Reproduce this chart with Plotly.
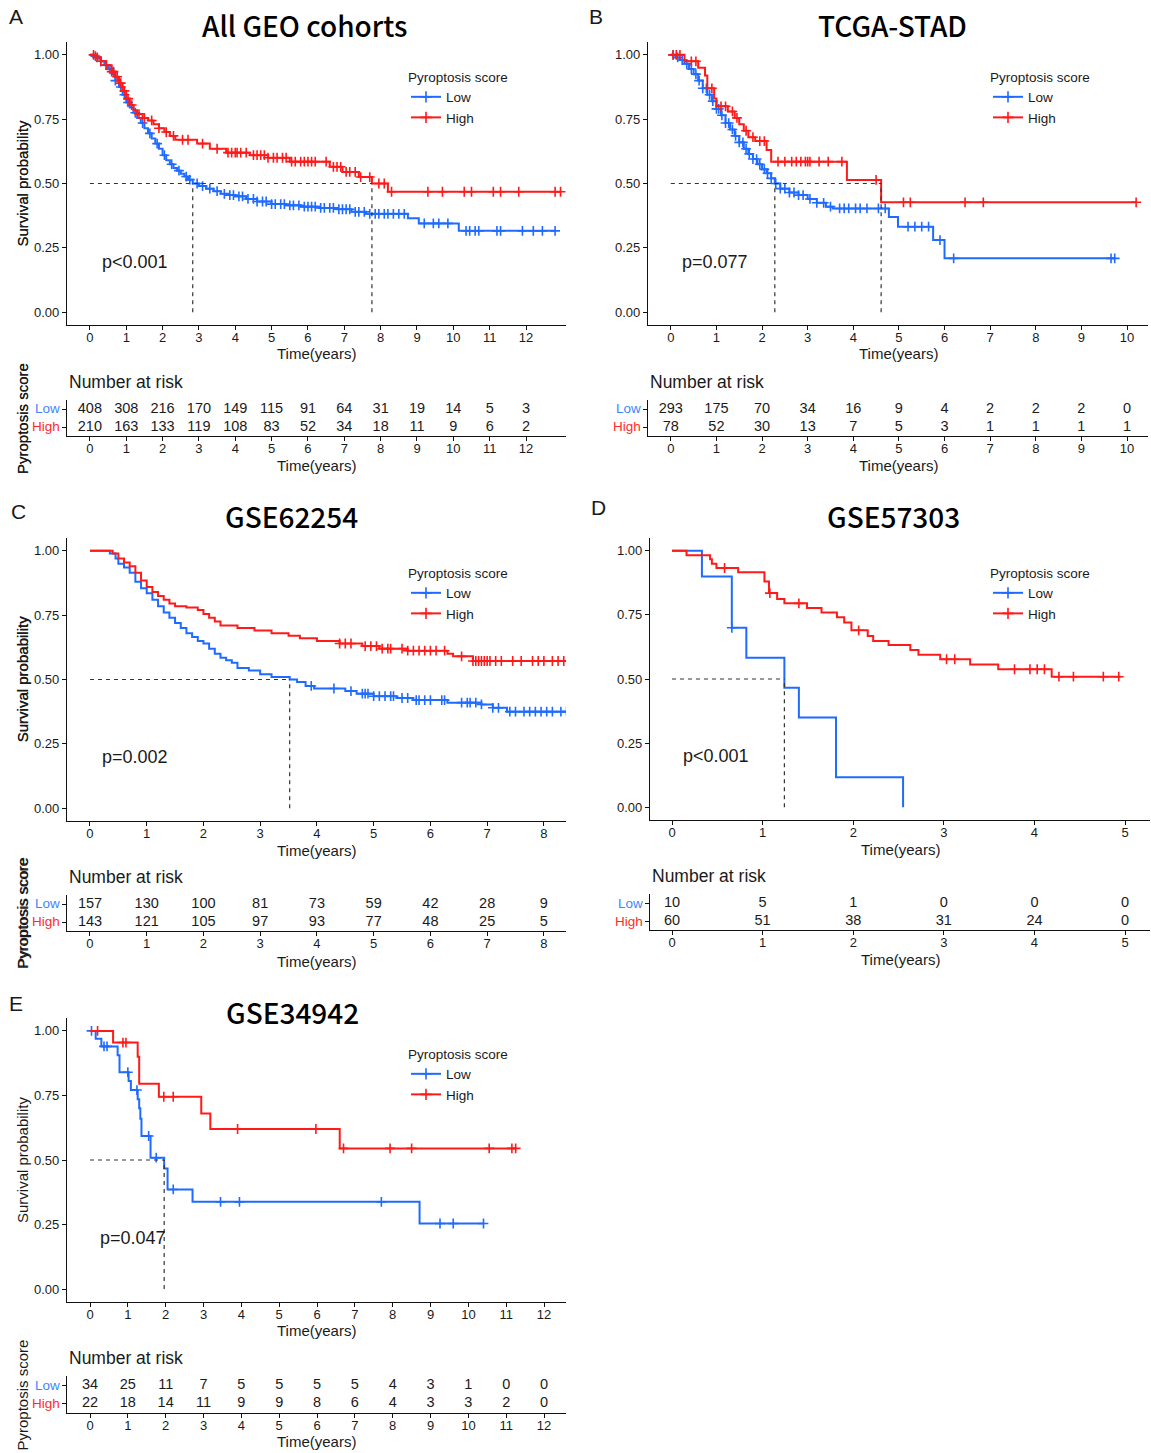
import numpy as np
import plotly.graph_objects as go

W, H = 1151, 1453
BLUE = "#1F6BFF"
RED = "#FF1A1A"
LBLUE = "#3D86FF"
LRED = "#FF2A2A"

# ---------------- DATA ----------------
# Panel A: All GEO cohorts
A_low_t = [0.1, 0.2, 0.3, 0.4, 0.5, 0.6, 0.7, 0.8, 0.9, 1.0, 1.1, 1.2, 1.3, 1.4, 1.5, 1.6, 1.7, 1.8, 1.9, 2.0,
           2.1, 2.2, 2.3, 2.4, 2.5, 2.6, 2.7, 2.83, 3.0, 3.2, 3.4, 3.6, 3.8, 4.0, 4.3, 4.6, 5.0, 5.4, 5.8, 6.3,
           6.8, 7.2, 7.6, 8.75, 9.05, 10.15]
A_low_s = [0.995, 0.985, 0.975, 0.96, 0.945, 0.925, 0.90, 0.875, 0.845, 0.815, 0.795, 0.775, 0.755, 0.735, 0.715,
           0.695, 0.675, 0.655, 0.635, 0.61, 0.59, 0.575, 0.56, 0.55, 0.538, 0.527, 0.515, 0.50, 0.49, 0.48, 0.47,
           0.46, 0.455, 0.45, 0.44, 0.43, 0.42, 0.415, 0.41, 0.405, 0.40, 0.39, 0.382, 0.365, 0.345, 0.316]
A_low_c = [0.15, 0.3, 0.45, 0.55, 0.7, 0.85, 0.95, 1.05, 1.25, 1.45, 1.65, 1.85, 2.05, 2.25, 2.45, 2.65, 2.75, 2.95,
           3.1, 3.3, 3.5, 3.7, 3.85, 3.95, 4.1, 4.2, 4.35, 4.5, 4.6, 4.75, 4.85, 5.0, 5.1, 5.25, 5.35, 5.5, 5.6,
           5.75, 5.9, 6.0, 6.1, 6.2, 6.35, 6.45, 6.6, 6.7, 6.85, 6.95, 7.05, 7.15, 7.3, 7.4, 7.55, 7.7, 7.85, 7.95,
           8.1, 8.2, 8.35, 8.5, 8.65, 9.2, 9.45, 9.6, 9.85, 10.35, 10.45, 10.6, 10.7, 11.2, 11.3, 11.9, 12.2,
           12.45, 12.8]
A_low_end = 12.8
A_high_t = [0.15, 0.3, 0.45, 0.6, 0.7, 0.8, 0.9, 1.0, 1.1, 1.2, 1.3, 1.45, 1.6, 1.75, 1.9, 2.05, 2.2, 2.35, 2.95,
            3.3, 3.75, 4.4, 4.9, 5.5, 6.6, 6.95, 7.4, 7.76, 8.2]
A_high_s = [0.99, 0.975, 0.96, 0.935, 0.915, 0.89, 0.86, 0.83, 0.805, 0.785, 0.77, 0.755, 0.745, 0.73, 0.715, 0.70,
            0.685, 0.67, 0.655, 0.635, 0.62, 0.61, 0.60, 0.585, 0.565, 0.545, 0.525, 0.50, 0.468]
A_high_c = [0.1, 0.2, 0.3, 0.45, 0.6, 0.65, 0.75, 0.85, 0.95, 1.05, 1.15, 1.35, 1.5, 1.7, 1.9, 2.1, 2.3, 2.55, 2.7,
            3.1, 3.5, 3.8, 3.9, 4.0, 4.05, 4.15, 4.3, 4.5, 4.6, 4.7, 4.8, 4.9, 5.05, 5.15, 5.3, 5.4, 5.55, 5.65, 5.8,
            5.9, 6.0, 6.1, 6.2, 6.5, 6.7, 6.8, 6.9, 7.05, 7.15, 7.3, 7.45, 7.7, 7.95, 8.1, 8.3, 9.3, 9.7, 10.3,
            10.5, 11.1, 11.3, 11.8, 12.8, 12.95]
A_high_end = 12.95
A_risk_times = [0, 1, 2, 3, 4, 5, 6, 7, 8, 9, 10, 11, 12]
A_risk_low = [408, 308, 216, 170, 149, 115, 91, 64, 31, 19, 14, 5, 3]
A_risk_high = [210, 163, 133, 119, 108, 83, 52, 34, 18, 11, 9, 6, 2]

# Panel B: TCGA-STAD
B_low_t = [0.1, 0.2, 0.3, 0.4, 0.5, 0.6, 0.7, 0.8, 0.9, 1.0, 1.1, 1.2, 1.3, 1.4, 1.5, 1.6, 1.7, 1.8, 1.9, 2.0,
           2.1, 2.2, 2.28, 2.4, 2.6, 2.8, 3.0, 3.2, 3.4, 3.55, 4.78, 4.98, 5.75, 6.0]
B_low_s = [0.99, 0.98, 0.965, 0.945, 0.925, 0.90, 0.87, 0.845, 0.82, 0.79, 0.765, 0.735, 0.71, 0.685, 0.66, 0.635,
           0.615, 0.595, 0.575, 0.555, 0.54, 0.52, 0.50, 0.48, 0.465, 0.455, 0.44, 0.425, 0.41, 0.403, 0.37,
           0.332, 0.28, 0.209]
B_low_c = [0.05, 0.15, 0.25, 0.35, 0.45, 0.55, 0.62, 0.7, 0.78, 0.85, 0.92, 1.0, 1.05, 1.12, 1.2, 1.27, 1.35, 1.42,
           1.5, 1.58, 1.65, 1.72, 1.8, 1.88, 1.95, 2.05, 2.12, 2.2, 2.3, 2.4, 2.5, 2.6, 2.7, 2.8, 2.9, 3.05, 3.2,
           3.35, 3.5, 3.7, 3.8, 3.9, 4.05, 4.15, 4.3, 4.55, 4.7, 5.2, 5.35, 5.5, 5.65, 5.9, 6.2, 9.65, 9.73]
B_low_end = 9.73
B_high_t = [0.3, 0.6, 0.75, 0.8, 0.95, 1.0, 1.25, 1.4, 1.5, 1.6, 1.7, 1.85, 2.1, 2.2, 3.86, 4.61]
B_high_s = [0.975, 0.95, 0.92, 0.87, 0.83, 0.80, 0.78, 0.755, 0.73, 0.705, 0.68, 0.665, 0.63, 0.585, 0.514, 0.427]
B_high_c = [0.05, 0.12, 0.2, 0.45, 0.55, 0.9, 1.1, 1.2, 1.35, 1.45, 1.65, 1.8, 1.95, 2.05, 2.35, 2.5, 2.65, 2.75,
            2.85, 2.95, 3.0, 3.05, 3.25, 3.45, 3.75, 4.5, 5.1, 5.25, 6.45, 6.85, 10.2]
B_high_end = 10.2
B_risk_times = [0, 1, 2, 3, 4, 5, 6, 7, 8, 9, 10]
B_risk_low = [293, 175, 70, 34, 16, 9, 4, 2, 2, 2, 0]
B_risk_high = [78, 52, 30, 13, 7, 5, 3, 1, 1, 1, 1]

# Panel C: GSE62254
C_low_t = [0.35, 0.45, 0.5, 0.6, 0.7, 0.8, 0.9, 1.0, 1.1, 1.2, 1.3, 1.4, 1.5, 1.6, 1.7, 1.8, 1.9, 2.0, 2.1, 2.2,
           2.3, 2.4, 2.5, 2.6, 2.8, 3.0, 3.2, 3.52, 3.65, 3.8, 3.95, 4.5, 4.7, 5.0, 5.4, 5.7, 6.3, 6.9, 7.1, 7.35]
C_low_s = [0.99, 0.97, 0.95, 0.935, 0.915, 0.88, 0.855, 0.835, 0.81, 0.785, 0.76, 0.74, 0.72, 0.70, 0.68, 0.665,
           0.65, 0.64, 0.62, 0.60, 0.585, 0.575, 0.565, 0.545, 0.535, 0.52, 0.51, 0.50, 0.49, 0.475, 0.465, 0.455,
           0.445, 0.435, 0.428, 0.42, 0.41, 0.403, 0.39, 0.375]
C_low_c = [3.9, 4.3, 4.6, 4.8, 4.85, 4.9, 5.0, 5.1, 5.2, 5.3, 5.35, 5.5, 5.6, 5.75, 5.8, 5.9, 6.0, 6.2, 6.25, 6.55,
           6.65, 6.7, 6.8, 6.9, 7.1, 7.2, 7.4, 7.5, 7.65, 7.75, 7.85, 7.95, 8.05, 8.15, 8.3, 8.4]
C_low_end = 8.4
C_high_t = [0.4, 0.5, 0.6, 0.7, 0.8, 0.9, 1.0, 1.1, 1.2, 1.3, 1.4, 1.5, 1.7, 1.9, 2.0, 2.1, 2.2, 2.3, 2.6, 2.9,
            3.2, 3.5, 3.7, 4.0, 4.4, 4.8, 5.1, 5.6, 6.3, 6.4, 6.75]
C_high_s = [0.99, 0.97, 0.955, 0.94, 0.915, 0.885, 0.86, 0.84, 0.825, 0.81, 0.795, 0.785, 0.78, 0.77, 0.755, 0.74,
            0.725, 0.71, 0.70, 0.69, 0.68, 0.67, 0.66, 0.65, 0.64, 0.63, 0.62, 0.612, 0.60, 0.59, 0.572]
C_high_c = [4.4, 4.5, 4.6, 4.85, 4.95, 5.05, 5.15, 5.25, 5.3, 5.5, 5.6, 5.7, 5.8, 5.9, 6.0, 6.1, 6.25, 6.55, 6.75,
            6.8, 6.85, 6.9, 6.95, 7.0, 7.05, 7.15, 7.25, 7.45, 7.6, 7.8, 7.9, 8.0, 8.15, 8.25, 8.35]
C_high_end = 8.4
C_risk_times = [0, 1, 2, 3, 4, 5, 6, 7, 8]
C_risk_low = [157, 130, 100, 81, 73, 59, 42, 28, 9]
C_risk_high = [143, 121, 105, 97, 93, 77, 48, 25, 5]

# Panel D: GSE57303
D_low_t = [0.33, 0.66, 0.82, 1.24, 1.4, 1.81, 2.55]
D_low_s = [0.90, 0.70, 0.583, 0.466, 0.35, 0.117, 0.0]
D_low_c = [0.66]
D_low_end = 2.55
D_high_t = [0.16, 0.42, 0.44, 0.49, 0.73, 1.02, 1.07, 1.16, 1.24, 1.49, 1.65, 1.82, 1.9, 1.98, 2.16, 2.22, 2.39,
            2.63, 2.72, 2.96, 3.29, 3.6, 4.19]
D_high_s = [0.983, 0.967, 0.95, 0.933, 0.916, 0.88, 0.835, 0.812, 0.795, 0.777, 0.759, 0.741, 0.72, 0.69, 0.668,
            0.648, 0.633, 0.613, 0.595, 0.577, 0.557, 0.538, 0.509]
D_high_c = [0.58, 1.08, 1.4, 2.06, 3.03, 3.12, 3.78, 3.95, 4.03, 4.11, 4.27, 4.43, 4.76, 4.93]
D_high_end = 4.95
D_risk_times = [0, 1, 2, 3, 4, 5]
D_risk_low = [10, 5, 1, 0, 0, 0]
D_risk_high = [60, 51, 38, 31, 24, 0]

# Panel E: GSE34942
E_low_t = [0.15, 0.3, 0.73, 0.78, 1.02, 1.08, 1.26, 1.3, 1.33, 1.36, 1.6, 1.96, 2.05, 2.71, 8.71]
E_low_s = [0.97, 0.94, 0.906, 0.84, 0.806, 0.771, 0.735, 0.70, 0.66, 0.593, 0.509, 0.467, 0.386, 0.338, 0.254]
E_low_c = [0.04, 0.37, 0.45, 1.0, 1.24, 1.55, 1.75, 2.2, 3.45, 3.95, 7.7, 9.25, 9.6, 10.4]
E_low_end = 10.4
E_high_t = [0.61, 1.26, 1.3, 1.82, 2.94, 3.18, 6.6]
E_high_s = [0.955, 0.9, 0.795, 0.745, 0.68, 0.62, 0.545]
E_high_c = [0.2, 0.87, 0.95, 1.95, 2.2, 3.9, 5.97, 6.7, 7.93, 8.5, 10.55, 11.15, 11.25]
E_high_end = 11.25
E_risk_times = [0, 1, 2, 3, 4, 5, 6, 7, 8, 9, 10, 11, 12]
E_risk_low = [34, 25, 11, 7, 5, 5, 5, 5, 4, 3, 1, 0, 0]
E_risk_high = [22, 18, 14, 11, 9, 9, 8, 6, 4, 3, 3, 2, 0]

titles = ["All GEO cohorts", "TCGA-STAD", "GSE62254", "GSE57303", "GSE34942"]
letters = ["A", "B", "C", "D", "E"]
pvalues = ["p<0.001", "p=0.077", "p=0.002", "p<0.001", "p=0.047"]

# ---------------- LAYOUT (pixels) ----------------
def fx(px):
    return px / W

def fy(py):
    return 1 - py / H

panels = [
    dict(d=dict(lt=A_low_t, ls=A_low_s, lc=A_low_c, le=A_low_end, ht=A_high_t, hs=A_high_s, hc=A_high_c, he=A_high_end,
                rt=A_risk_times, rl=A_risk_low, rh=A_risk_high),
         km=(67, 566, 42, 325), risk=(400, 436), xr=(-0.63, 13.1),
         letter=(16, 16), title=(305, 25), leg=(406, 64), pv=(100, 262), nar=382, xt=354, rxt=465),
    dict(d=dict(lt=B_low_t, ls=B_low_s, lc=B_low_c, le=B_low_end, ht=B_high_t, hs=B_high_s, hc=B_high_c, he=B_high_end,
                rt=B_risk_times, rl=B_risk_low, rh=B_risk_high),
         km=(648, 1148, 42, 325), risk=(400, 436), xr=(-0.5, 10.46),
         letter=(596, 16), title=(892, 25), leg=(988, 64), pv=(680, 262), nar=382, xt=354, rxt=465),
    dict(d=dict(lt=C_low_t, ls=C_low_s, lc=C_low_c, le=C_low_end, ht=C_high_t, hs=C_high_s, hc=C_high_c, he=C_high_end,
                rt=C_risk_times, rl=C_risk_low, rh=C_risk_high),
         km=(67, 566, 538, 821), risk=(895, 931), xr=(-0.405, 8.39),
         letter=(18, 511), title=(291, 516), leg=(406, 560), pv=(100, 757), nar=877, xt=850, rxt=961),
    dict(d=dict(lt=D_low_t, ls=D_low_s, lc=D_low_c, le=D_low_end, ht=D_high_t, hs=D_high_s, hc=D_high_c, he=D_high_end,
                rt=D_risk_times, rl=D_risk_low, rh=D_risk_high),
         km=(650, 1150, 538, 820), risk=(894, 930), xr=(-0.243, 5.275),
         letter=(598, 508), title=(893, 516), leg=(988, 560), pv=(681, 756), nar=876, xt=849, rxt=959),
    dict(d=dict(lt=E_low_t, ls=E_low_s, lc=E_low_c, le=E_low_end, ht=E_high_t, hs=E_high_s, hc=E_high_c, he=E_high_end,
                rt=E_risk_times, rl=E_risk_low, rh=E_risk_high),
         km=(67, 566, 1018, 1302), risk=(1376, 1413), xr=(-0.608, 12.58),
         letter=(16, 1003), title=(292, 1012), leg=(406, 1041), pv=(98, 1238), nar=1358, xt=1330, rxt=1441),
]

FONT = "Liberation Sans, Arial, sans-serif"
TXT = "#1a1a1a"


def step_value(ts, ss, t):
    i = int(np.searchsorted(np.asarray(ts), t, side="right")) - 1
    return 1.0 if i < 0 else ss[i]


def median_time(ts, ss):
    for t, s in zip(ts, ss):
        if s <= 0.5:
            return t
    return None


fig = go.Figure()
layout = dict(width=W, height=H, margin=dict(l=0, r=0, t=0, b=0),
              paper_bgcolor="white", plot_bgcolor="white", showlegend=True)
annotations = []
shapes = []

for i, p in enumerate(panels):
    d = p["d"]
    kn, rn = 2 * i + 1, 2 * i + 2
    kx = "x" if kn == 1 else f"x{kn}"
    ky = "y" if kn == 1 else f"y{kn}"
    rx, ry = f"x{rn}", f"y{rn}"
    kxl = "xaxis" if kn == 1 else f"xaxis{kn}"
    kyl = "yaxis" if kn == 1 else f"yaxis{kn}"
    legname = "legend" if i == 0 else f"legend{i + 1}"
    x0, x1, y0, y1 = p["km"]
    r0, r1 = p["risk"]

    axis_common = dict(showline=True, linecolor="#111", linewidth=1.3, ticks="outside", ticklen=4,
                       tickcolor="#111", tickwidth=1.1, showgrid=False, zeroline=False,
                       tickfont=dict(family=FONT, size=13, color=TXT), fixedrange=True)
    layout[kxl] = dict(domain=[fx(x0), fx(x1)], range=list(p["xr"]), anchor=ky, ticklabelstandoff=-4,
                       tickvals=d["rt"], ticktext=[str(v) for v in d["rt"]], **axis_common)
    layout[kyl] = dict(domain=[fy(y1), fy(y0)], range=[-0.05, 1.05], anchor=kx,
                       tickvals=[0, 0.25, 0.5, 0.75, 1.0], ticktext=["0.00", "0.25", "0.50", "0.75", "1.00"],
                       **axis_common)
    layout[f"xaxis{rn}"] = dict(domain=[fx(x0), fx(x1)], range=list(p["xr"]), anchor=ry, ticklabelstandoff=-4,
                                tickvals=d["rt"], ticktext=[str(v) for v in d["rt"]], **axis_common)
    layout[f"yaxis{rn}"] = dict(domain=[fy(r1), fy(r0)], range=[0.5, 2.5], anchor=rx,
                                tickvals=[1, 2], ticktext=["", ""], **axis_common)

    # curves
    for key_t, key_s, key_c, key_e, col, name in [("lt", "ls", "lc", "le", BLUE, "Low"),
                                                  ("ht", "hs", "hc", "he", RED, "High")]:
        ts, ss, cs, te = d[key_t], d[key_s], d[key_c], d[key_e]
        xs = [0] + list(ts)
        ys = [1.0] + list(ss)
        if te > xs[-1]:
            xs.append(te)
            ys.append(ys[-1])
        fig.add_trace(go.Scatter(x=xs, y=ys, mode="lines", line=dict(color=col, width=2, shape="hv"),
                                 xaxis=kx, yaxis=ky, showlegend=False, hoverinfo="skip"))
        cy = [step_value(ts, ss, c) for c in cs]
        fig.add_trace(go.Scatter(x=cs, y=cy, mode="markers",
                                 marker=dict(symbol="cross-thin", size=7, color=col, line=dict(color=col, width=1.6)),
                                 xaxis=kx, yaxis=ky, showlegend=False, hoverinfo="skip"))
        fig.add_trace(go.Scatter(x=[None], y=[None], mode="lines+markers", name=name,
                                 line=dict(color=col, width=2),
                                 marker=dict(symbol="cross-thin", size=8, color=col, line=dict(color=col, width=1.6)),
                                 xaxis=kx, yaxis=ky, showlegend=True, legend=legname))

    # medians
    meds = [m for m in (median_time(d["lt"], d["ls"]), median_time(d["ht"], d["hs"])) if m is not None]
    dash = dict(color="#333", width=1.2, dash="4px,4px")
    if meds:
        shapes.append(dict(type="line", xref=kx, yref=ky, x0=0, x1=max(meds), y0=0.5, y1=0.5, line=dash))
        for m in meds:
            shapes.append(dict(type="line", xref=kx, yref=ky, x0=m, x1=m, y0=0, y1=0.5, line=dash))

    # risk table
    fig.add_trace(go.Scatter(x=d["rt"], y=[2] * len(d["rt"]), mode="text", text=[str(v) for v in d["rl"]],
                             textfont=dict(family=FONT, size=14.5, color=TXT), xaxis=rx, yaxis=ry,
                             showlegend=False, hoverinfo="skip"))
    fig.add_trace(go.Scatter(x=d["rt"], y=[1] * len(d["rt"]), mode="text", text=[str(v) for v in d["rh"]],
                             textfont=dict(family=FONT, size=14.5, color=TXT), xaxis=rx, yaxis=ry,
                             showlegend=False, hoverinfo="skip"))

    # legend
    lx, ly = p["leg"]
    layout[legname] = dict(x=fx(lx), y=fy(ly), xanchor="left", yanchor="top", bgcolor="rgba(0,0,0,0)",
                           title=dict(text="Pyroptosis score", font=dict(family=FONT, size=13.5, color=TXT)),
                           font=dict(family=FONT, size=13.5, color=TXT), itemwidth=30, tracegroupgap=0)

    # texts
    def ann(text, x, y, size, xanchor="center", angle=0, color=TXT, family=FONT, weight=None, yref="paper", yv=None):
        f = dict(family=family, size=size, color=color)
        if weight:
            f["weight"] = weight
        annotations.append(dict(text=text, xref="paper", yref=yref, x=fx(x), y=(fy(y) if yv is None else yv),
                                xanchor=xanchor, yanchor="middle", showarrow=False, textangle=angle, font=f))

    ann(letters[i], p["letter"][0], p["letter"][1], 21, "center")
    ann(titles[i], p["title"][0], p["title"][1], 28, "center", family="Noto Sans CJK SC, Noto Sans, sans-serif",
        weight=500, color="#000")
    ann(pvalues[i], p["pv"][0], p["pv"][1], 18, "left")
    ann("Survival probability", 22, (y0 + y1) / 2, 15, "center", angle=-90)
    ann("Time(years)", (x0 + x1) / 2, p["xt"], 15, "center")
    ann("Number at risk", x0, p["nar"], 17.5, "left")
    ann("Pyroptosis score", 22, (r0 + r1) / 2 + 1, 15, "center", angle=-90)
    ann("Time(years)", (x0 + x1) / 2, p["rxt"], 15, "center")
    ann("Low", x0 - 5, 0, 13.5, "right", color=LBLUE, yref=ry, yv=2)
    ann("High", x0 - 5, 0, 13.5, "right", color=LRED, yref=ry, yv=1)

layout["annotations"] = annotations
layout["shapes"] = shapes
fig.update_layout(**layout)
fig.write_html("out.html")
